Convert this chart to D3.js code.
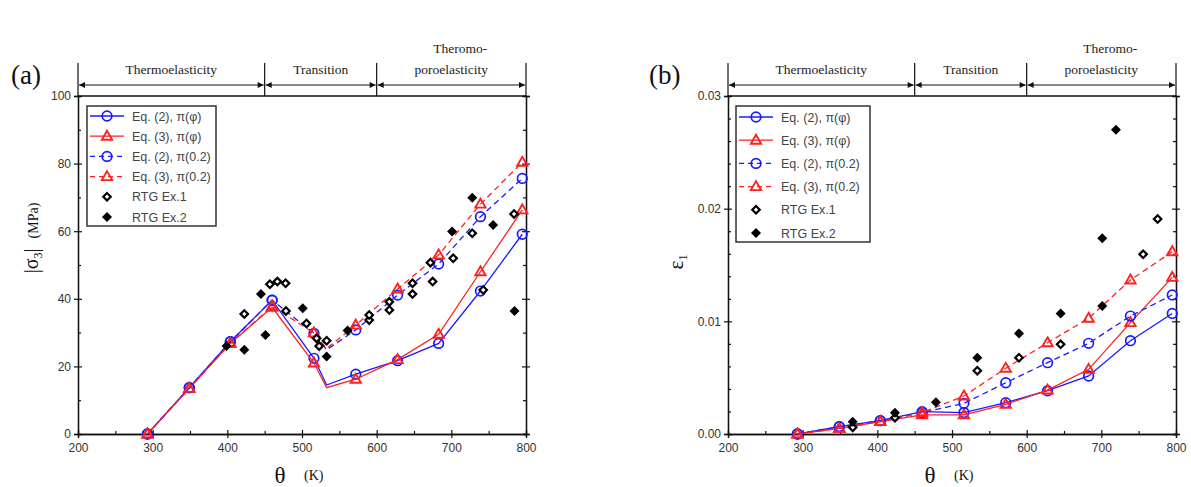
<!DOCTYPE html>
<html>
<head>
<meta charset="utf-8">
<script src="https://cdn.jsdelivr.net/npm/d3@7"></script>
<style>
  body { margin: 0; background: #fff; }
  svg { display: block; }
  .tick text { font-family: "Liberation Sans", Arial, sans-serif; font-size: 12px; fill: #333; }
  .serif { font-family: "Liberation Serif", "Times New Roman", serif; }
  .sans { font-family: "Liberation Sans", Arial, sans-serif; }
</style>
</head>
<body>
<svg id="chart" width="1191" height="487"></svg>
<script>
// temperature stages shown above both panels
const phaseBounds = [200, 450, 600, 800];
const phaseLabels = [['Thermoelasticity'], ['Transition'], ['Theromo-', 'poroelasticity']];

// model temperatures (marker positions), left panel also has the kink at 533 K
const markerTemps = [293, 349, 404, 460, 516, 572, 628, 683, 739, 795];
const stressTemps = [293, 349, 404, 460, 516, 533, 572, 628, 683, 739, 795];

// (a) |sigma_3| in MPa
const stressEq2Phi = [0, 13.7, 27.3, 39.6, 22.4, 14.5, 17.7, 21.7, 26.8, 42.3, 59.1];
const stressEq3Phi = [0, 13.5, 26.8, 37.5, 21.0, 13.7, 16.2, 22.0, 29.5, 48.0, 66.3];
const stressEq2Fix = [0, 13.7, 27.3, 39.6, 29.8, 24.9, 30.8, 41.1, 50.3, 64.3, 75.6];
const stressEq3Fix = [0, 13.5, 26.8, 37.8, 29.9, 25.3, 32.2, 42.9, 53.0, 68.0, 80.4];

const stressRtg1 = [[422.7, 35.5], [457, 44.3], [467, 45.1], [478, 44.6], [478.5, 36.4], [506, 32.7],
  [519.6, 28.3], [523, 26.0], [533, 27.6], [590, 33.7], [590, 35.2], [617, 39.1], [617, 36.7],
  [648, 44.6], [648, 41.4], [672, 50.7], [675, 45.1], [702.5, 52.0], [728, 59.4], [742.7, 42.6], [784, 65.1]];
const stressRtg2 = [[399, 26.0], [422.7, 24.9], [445, 41.4], [451, 29.3], [501, 37.2], [533, 22.9],
  [561, 30.6], [701, 59.9], [728, 69.9], [756, 61.8], [784.6, 36.4]];

// (b) epsilon_1
const strainEq2Phi = [0, 0.00065, 0.00118, 0.00198, 0.0019, 0.00278, 0.00384, 0.00515, 0.00828, 0.0107];
const strainEq3Phi = [0, 0.0005, 0.0011, 0.0017, 0.0017, 0.00263, 0.0039, 0.00574, 0.00988, 0.0139];
const strainEq2Fix = [0, 0.00065, 0.00118, 0.0019, 0.00272, 0.00455, 0.00633, 0.00805, 0.01047, 0.01234];
const strainEq3Fix = [0, 0.0005, 0.0011, 0.0019, 0.00337, 0.00583, 0.0081, 0.01027, 0.01367, 0.01618];

const strainRtg1 = [[367, 0.00059], [423.6, 0.00145], [533.9, 0.00562], [589.7, 0.00677],
  [645.5, 0.00796], [756, 0.01595], [775.4, 0.01908]];
const strainRtg2 = [[367, 0.00109], [423.6, 0.00189], [478.5, 0.00281], [533.9, 0.00677],
  [589.7, 0.00893], [645.5, 0.0107], [701.2, 0.01737], [701.2, 0.01136], [719.6, 0.027]];

const legendLabels = ['Eq. (2), \u03c0(\u03c6)', 'Eq. (3), \u03c0(\u03c6)', 'Eq. (2), \u03c0(0.2)',
  'Eq. (3), \u03c0(0.2)', 'RTG Ex.1', 'RTG Ex.2'];

const BLUE = '#1a1aff', RED = '#ff2020';
const styles = [
  { color: BLUE, dash: null, sym: 'circle' },
  { color: RED, dash: null, sym: 'triangle' },
  { color: BLUE, dash: '6,4', sym: 'circle' },
  { color: RED, dash: '6,4', sym: 'triangle' },
];

const svg = d3.select('#chart');
const plotTop = 96, plotBottom = 434;

const defs = svg.append('defs');
defs.append('marker').attr('id', 'arr').attr('viewBox', '0 0 10 10')
  .attr('refX', 10).attr('refY', 5).attr('markerWidth', 7).attr('markerHeight', 6)
  .attr('orient', 'auto-start-reverse').attr('markerUnits', 'userSpaceOnUse')
  .append('path').attr('d', 'M0,0L10,5L0,10Z').attr('fill', '#111');

function drawSymbol(g, sym, cx, cy, color) {
  if (sym === 'circle') {
    g.append('circle').attr('cx', cx).attr('cy', cy).attr('r', 4.8)
      .attr('fill', 'none').attr('stroke', color).attr('stroke-width', 1.7);
  } else if (sym === 'triangle') {
    g.append('path').attr('d', d3.symbol(d3.symbolTriangle, 46)())
      .attr('transform', `translate(${cx},${cy + 0.5})`)
      .attr('fill', 'none').attr('stroke', color).attr('stroke-width', 1.9);
  } else if (sym === 'open') {
    g.append('path').attr('d', d3.symbol(d3.symbolSquare, 28)())
      .attr('transform', `translate(${cx},${cy}) rotate(45)`)
      .attr('fill', '#fff').attr('stroke', '#000').attr('stroke-width', 2.2);
  } else {
    g.append('path').attr('d', d3.symbol(d3.symbolSquare, 50)())
      .attr('transform', `translate(${cx},${cy}) rotate(45)`)
      .attr('fill', '#000');
  }
}

function drawPanel(p) {
  const g = svg.append('g');
  const x = d3.scaleLinear().domain([200, 800]).range([p.left, p.left + 448]);
  const y = d3.scaleLinear().domain(p.yDomain).range([plotBottom, plotTop]);

  // axes: major ticks cross the frame, minor ticks point inward
  const major = x.ticks(6), minor = d3.range(250, 800, 100);
  const xAx = g.append('g').attr('transform', `translate(0,${plotBottom})`)
    .call(d3.axisBottom(x).tickValues(major).tickSize(4).tickPadding(5));
  xAx.selectAll('.tick line').attr('y1', -4);
  g.append('g').attr('transform', `translate(0,${plotBottom})`)
    .call(d3.axisBottom(x).tickValues(minor).tickSize(-3).tickFormat(''));

  const yAx = g.append('g').attr('transform', `translate(${p.left},0)`)
    .call(d3.axisLeft(y).tickValues(p.yMajor).tickSize(4).tickPadding(3).tickFormat(p.fmt));
  yAx.selectAll('.tick line').attr('x1', 4);
  g.append('g').attr('transform', `translate(${p.left},0)`)
    .call(d3.axisLeft(y).tickValues(p.yMinor).tickSize(-3).tickFormat(''));
  const yR = g.append('g').attr('transform', `translate(${p.left + 448},0)`)
    .call(d3.axisRight(y).tickValues(p.yMajor).tickSize(4).tickFormat(''));
  yR.selectAll('.tick line').attr('x1', -4);
  g.append('g').attr('transform', `translate(${p.left + 448},0)`)
    .call(d3.axisRight(y).tickValues(p.yMinor).tickSize(-3).tickFormat(''));
  g.selectAll('.domain').attr('stroke', '#111').attr('stroke-width', 1.3);
  g.selectAll('.tick line').attr('stroke', '#111').attr('stroke-width', 1.2);
  g.append('line').attr('x1', x(200)).attr('x2', x(800)).attr('y1', plotTop).attr('y2', plotTop)
    .attr('stroke', '#111').attr('stroke-width', 1.3);

  // phase header
  phaseBounds.forEach(b => {
    g.append('line').attr('x1', x(b)).attr('x2', x(b)).attr('y1', 63).attr('y2', plotTop)
      .attr('stroke', '#111').attr('stroke-width', 1.2);
  });
  phaseLabels.forEach((lab, i) => {
    const a = x(phaseBounds[i]), b = x(phaseBounds[i + 1]);
    g.append('line').attr('x1', a + 1).attr('x2', b - 1).attr('y1', 85).attr('y2', 85)
      .attr('stroke', '#111').attr('stroke-width', 1.2)
      .attr('marker-start', 'url(#arr)').attr('marker-end', 'url(#arr)');
    lab.forEach((t, j) => {
      g.append('text').attr('class', 'serif').attr('x', (a + b) / 2 + (lab.length > 1 && j === 0 ? 9 : 0))
        .attr('y', 74 - (lab.length - 1 - j) * 21).attr('text-anchor', 'middle')
        .attr('font-size', 13.5).attr('fill', '#222').text(t);
    });
  });

  g.append('text').attr('class', 'serif').attr('x', p.left - 67 + p.tagDx).attr('y', 84)
    .attr('font-size', 27).attr('fill', '#111').text(p.tag);

  // model curves
  p.series.forEach((vals, i) => {
    const s = styles[i];
    const pts = p.temps.map((t, k) => [t, vals[k]]);
    g.append('path').datum(pts)
      .attr('d', d3.line().x(d => x(d[0])).y(d => y(d[1])))
      .attr('fill', 'none').attr('stroke', s.color).attr('stroke-width', 1.3)
      .attr('stroke-dasharray', s.dash);
    pts.filter(d => markerTemps.includes(d[0]))
      .forEach(d => drawSymbol(g, s.sym, x(d[0]), y(d[1]), s.color));
  });
  p.rtg1.forEach(d => drawSymbol(g, 'open', x(d[0]), y(d[1])));
  p.rtg2.forEach(d => drawSymbol(g, 'filled', x(d[0]), y(d[1])));

  // legend
  const L = p.legend;
  g.append('rect').attr('x', L.x).attr('y', L.y).attr('width', L.w).attr('height', L.h)
    .attr('fill', '#fff').attr('stroke', '#333').attr('stroke-width', 1.5);
  legendLabels.forEach((lab, i) => {
    const ry = L.y + L.first + i * L.step;
    if (i < 4) {
      const s = styles[i];
      g.append('line').attr('x1', L.x + 3).attr('x2', L.x + 37).attr('y1', ry).attr('y2', ry)
        .attr('stroke', s.color).attr('stroke-width', 1.3).attr('stroke-dasharray', s.dash ? '5,4' : null);
      drawSymbol(g, s.sym, L.x + 20, ry, s.color);
    } else {
      drawSymbol(g, i === 4 ? 'open' : 'filled', L.x + 20, ry);
    }
    g.append('text').attr('class', 'sans').attr('x', L.x + 45).attr('y', ry).attr('dy', '0.36em')
      .attr('font-size', 12.5).attr('fill', '#444').text(lab);
  });

  // x title
  const cx = p.left + 224;
  g.append('text').attr('class', 'serif').attr('x', cx - 22).attr('y', 483)
    .attr('text-anchor', 'middle').attr('font-size', 23).attr('fill', '#111').text('\u03b8');
  g.append('text').attr('class', 'serif').attr('x', cx + 2).attr('y', 480)
    .attr('font-size', 14).attr('fill', '#111').text('(K)');

  p.yTitle(g);
}

drawPanel({
  left: 78, tag: '(a)', tagDx: 0,
  yDomain: [0, 100], yMajor: d3.range(0, 101, 20), yMinor: d3.range(10, 100, 20), fmt: d3.format('d'),
  temps: stressTemps, series: [stressEq2Phi, stressEq3Phi, stressEq2Fix, stressEq3Fix],
  rtg1: stressRtg1, rtg2: stressRtg2,
  legend: { x: 87, y: 106, w: 129, h: 120, first: 10, step: 20.2 },
  yTitle: g => {
    const t = g.append('text').attr('class', 'serif')
      .attr('transform', 'translate(38,238) rotate(-90)').attr('text-anchor', 'middle').attr('fill', '#111');
    t.append('tspan').attr('font-size', 20).text('|\u03c3');
    t.append('tspan').attr('font-size', 12).attr('dy', 4).text('3');
    t.append('tspan').attr('font-size', 20).attr('dy', -4).text('|');
    t.append('tspan').attr('font-size', 14).attr('dx', 10).text('(MPa)');
  }
});

drawPanel({
  left: 728, tag: '(b)', tagDx: -12,
  yDomain: [0, 0.03], yMajor: [0, 0.01, 0.02, 0.03],
  yMinor: [0.002, 0.004, 0.006, 0.008, 0.012, 0.014, 0.016, 0.018, 0.022, 0.024, 0.026, 0.028],
  fmt: d3.format('.2f'),
  temps: markerTemps, series: [strainEq2Phi, strainEq3Phi, strainEq2Fix, strainEq3Fix],
  rtg1: strainRtg1, rtg2: strainRtg2,
  legend: { x: 736, y: 106, w: 134, h: 136, first: 11, step: 23.2 },
  yTitle: g => {
    const t = g.append('text').attr('class', 'serif')
      .attr('transform', 'translate(683,262) rotate(-90)').attr('text-anchor', 'middle').attr('fill', '#111');
    t.append('tspan').attr('font-size', 21).text('\u03b5');
    t.append('tspan').attr('font-size', 12).attr('dy', 4).text('1');
  }
});
</script>
</body>
</html>
